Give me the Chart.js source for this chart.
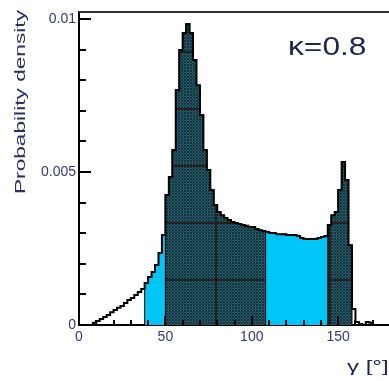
<!DOCTYPE html>
<html>
<head>
<meta charset="utf-8">
<script src="https://cdn.jsdelivr.net/npm/chart.js@4"></script>
<style>
  html, body { margin: 0; padding: 0; background: #fff; overflow: hidden; }
  #c { display: block; width: 400px; height: 381px; }
</style>
</head>
<body>
<canvas id="c" width="400" height="381"></canvas>
<script>
// histogram of gamma, 2 degree bins from 0 to 180
const binWidth = 2;
const density = [
  0, 0, 0, 0,
  0.00007, 0.00013, 0.00020, 0.00026, 0.00033, 0.00042, 0.00049, 0.00056,
  0.00062, 0.00072, 0.00082, 0.00088, 0.00098, 0.00108, 0.00118,
  0.00137, 0.00157, 0.00173, 0.00196, 0.00235, 0.00294,
  0.00425, 0.00484, 0.00572, 0.00768, 0.00899, 0.00954, 0.00984, 0.00954,
  0.00866, 0.00784, 0.00686, 0.00572, 0.00507, 0.00441, 0.00392, 0.00369,
  0.00359, 0.00350, 0.00343, 0.00337, 0.00333, 0.00330, 0.00327, 0.00324,
  0.00320, 0.00320, 0.00314, 0.00310, 0.00307,
  0.00304, 0.00301, 0.00301, 0.00297, 0.00297, 0.00297, 0.00294, 0.00294,
  0.00294, 0.00291, 0.00284, 0.00281, 0.00281, 0.00281, 0.00281, 0.00284,
  0.00288, 0.00291,
  0.00327, 0.00359, 0.00369, 0.00441, 0.00533, 0.00474, 0.00261,
  0.00052, 0.00010, 0.00003, 0, 0.00010, 0.00007, 0, 0, 0, 0, 0
];

// shaded intervals (degrees)
const cyanBands = [[38, 50], [108, 144]];
const darkBands = [[50, 108], [144, 158]];

const xTickValues = [0, 50, 100, 150];
const yTickValues = [0, 0.005, 0.01];
const xMinorStep = 10;
const yMinorStep = 0.001;

const kappaLabel = 'κ=0.8';
const xTitle = 'γ [°]';
const yTitle = 'Probability density';

const FONT = '"Liberation Sans", Arial, sans-serif';
const CYAN = '#00c6f8';

// dark cross-hatch fill with the tile seams seen in the original
function makeHatch(ctx) {
  const size = 57;
  const tile = document.createElement('canvas');
  tile.width = size;
  tile.height = size;
  const tctx = tile.getContext('2d');
  const img = tctx.createImageData(size, size);
  for (let y = 0; y < size; y++) {
    for (let x = 0; x < size; x++) {
      let c;
      if (y === 51 || y === 52 || x === 44 || x === 45) c = [40, 30, 30];
      else if ((x + y) % 3 === 0 || ((x - y) % 3 + 3) % 3 === 0) c = [16, 52, 62];
      else c = [44, 95, 110];
      const k = (y * size + x) * 4;
      img.data[k] = c[0]; img.data[k + 1] = c[1]; img.data[k + 2] = c[2]; img.data[k + 3] = 255;
    }
  }
  tctx.putImageData(img, 0, 0);
  return ctx.createPattern(tile, 'repeat');
}

function outlinePoints() {
  const pts = density.map((v, i) => ({ x: i * binWidth, y: v }));
  pts.push({ x: density.length * binWidth, y: density[density.length - 1] });
  return pts;
}

function bandPoints(band) {
  const [lo, hi] = band;
  const pts = [{ x: lo, y: 0 }];
  for (let i = lo / binWidth; i < hi / binWidth; i++) {
    pts.push({ x: i * binWidth, y: density[i] });
  }
  pts.push({ x: hi, y: density[hi / binWidth - 1] });
  pts.push({ x: hi, y: 0 });
  return pts;
}

// ROOT style inner ticks, frame and text labels
const decorations = {
  id: 'decorations',
  afterDraw(chart) {
    const { ctx, chartArea: a, scales: { x, y } } = chart;
    ctx.save();

    ctx.strokeStyle = '#000';
    ctx.lineWidth = 2;
    ctx.beginPath();
    for (let k = 0; k <= 10; k++) {
      const py = Math.round(y.getPixelForValue(k * yMinorStep));
      const len = k % 5 === 0 ? 12 : 7;
      ctx.moveTo(a.left, py);
      ctx.lineTo(a.left + len, py);
    }
    for (let k = 0; k <= 17; k++) {
      const px = Math.round(x.getPixelForValue(k * xMinorStep));
      const len = (k * xMinorStep) % 50 === 0 ? 9 : 5;
      ctx.moveTo(px, a.bottom);
      ctx.lineTo(px, a.bottom - len);
    }
    ctx.stroke();

    // top and right frame
    ctx.strokeStyle = '#333';
    ctx.beginPath();
    ctx.moveTo(a.left, a.top);
    ctx.lineTo(a.right, a.top);
    ctx.lineTo(a.right, a.bottom);
    ctx.stroke();

    ctx.fillStyle = '#1c2450';
    ctx.textBaseline = 'alphabetic';

    ctx.save();
    ctx.translate(288, 55);
    ctx.scale(1.22, 1);
    ctx.font = '26px ' + FONT;
    ctx.textAlign = 'left';
    ctx.fillText(kappaLabel, 0, 0);
    ctx.restore();

    ctx.save();
    ctx.translate(25, 10);
    ctx.rotate(-Math.PI / 2);
    ctx.scale(1.62, 1);
    ctx.font = '14px ' + FONT;
    ctx.fillStyle = '#2a2f66';
    ctx.textAlign = 'right';
    ctx.fillText(yTitle, 0, 0);
    ctx.restore();

    ctx.save();
    ctx.translate(347, 372);
    ctx.scale(1.5, 1);
    ctx.font = '16px ' + FONT;
    ctx.textAlign = 'left';
    ctx.fillText(xTitle, 0, 0);
    ctx.restore();

    ctx.restore();
  }
};

const canvas = document.getElementById('c');
const ctx = canvas.getContext('2d');
const hatch = makeHatch(ctx);

const datasets = [{
  data: outlinePoints(),
  stepped: 'before',
  borderColor: '#000',
  borderWidth: 2,
  fill: false
}];
cyanBands.forEach(b => datasets.push({
  data: bandPoints(b),
  stepped: 'before',
  borderColor: '#000',
  borderWidth: 1,
  backgroundColor: CYAN,
  fill: 'origin'
}));
darkBands.forEach(b => datasets.push({
  data: bandPoints(b),
  stepped: 'before',
  borderColor: '#000',
  borderWidth: 1,
  backgroundColor: hatch,
  fill: 'origin'
}));

new Chart(ctx, {
  type: 'line',
  data: { datasets },
  options: {
    responsive: false,
    animation: false,
    events: [],
    layout: { padding: { top: 12, right: 10, left: 0, bottom: 0 } },
    elements: { point: { radius: 0, hoverRadius: 0 }, line: { tension: 0 } },
    plugins: { legend: { display: false }, tooltip: { enabled: false } },
    scales: {
      x: {
        type: 'linear',
        min: 0,
        max: 180,
        z: 1,
        grid: { drawOnChartArea: false, drawTicks: false },
        border: { display: true, color: '#000', width: 2 },
        afterBuildTicks: s => { s.ticks = xTickValues.map(v => ({ value: v })); },
        afterFit: s => { s.height = 56; },
        ticks: {
          padding: 4,
          autoSkip: false,
          maxRotation: 0,
          color: '#34386e',
          font: { family: FONT, size: 14 },
          callback: v => String(v)
        }
      },
      y: {
        type: 'linear',
        min: 0,
        max: 0.01023,
        z: 1,
        grid: { drawOnChartArea: false, drawTicks: false },
        border: { display: true, color: '#000', width: 2 },
        afterBuildTicks: s => { s.ticks = yTickValues.map(v => ({ value: v })); },
        afterFit: s => { s.width = 79; },
        ticks: {
          padding: 3,
          color: '#34386e',
          font: { family: FONT, size: 14 },
          callback: v => String(v)
        }
      }
    }
  },
  plugins: [decorations]
});
</script>
</body>
</html>
